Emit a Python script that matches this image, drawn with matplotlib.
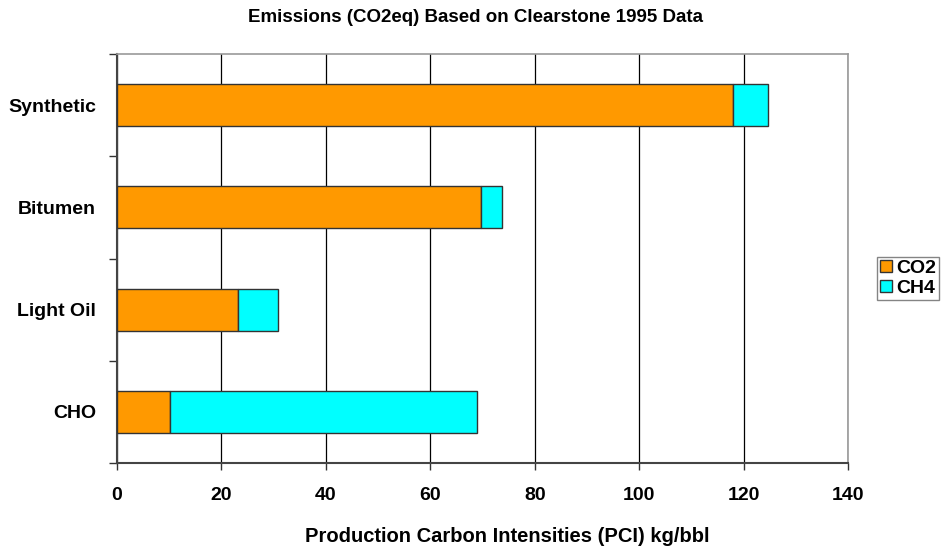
import matplotlib
matplotlib.use("Agg")
import matplotlib.pyplot as plt
import numpy as np

# production carbon intensity by crude type, kg/bbl
categories = ["CHO", "Light Oil", "Bitumen", "Synthetic"]
co2 = [10.2, 23.1, 69.8, 118.0]
ch4 = [58.8, 7.8, 4.0, 6.7]
series_names = ["CO2", "CH4"]
x_ticks = [0, 20, 40, 60, 80, 100, 120, 140]

plt.rcParams["font.family"] = ["Liberation Sans", "DejaVu Sans"]
plt.rcParams["font.weight"] = "bold"

fig = plt.figure(figsize=(9.46, 5.48), dpi=100)
ax = fig.add_axes([117 / 946, 1 - 463 / 548, 731 / 946, 409 / 548])

y = np.arange(len(categories))
bar_h = 0.41
ax.barh(y, co2, height=bar_h, color="#FF9900", edgecolor="#333333",
        linewidth=1.0, label=series_names[0], zorder=3)
ax.barh(y, ch4, left=co2, height=bar_h, color="#00FFFF", edgecolor="#333333",
        linewidth=1.0, label=series_names[1], zorder=3)

ax.set_xlim(0, 140)
ax.set_ylim(-0.5, len(categories) - 0.5)
ax.set_xticks(x_ticks)
ax.set_xticklabels([str(v) for v in x_ticks], fontsize=14, fontweight="bold")
ax.tick_params(axis="x", direction="out", length=5, width=1, color="#333333", pad=12)

ax.set_yticks(y)
ax.set_yticklabels(categories, fontsize=14, fontweight="bold")
ax.tick_params(axis="y", which="major", length=0, pad=15)
ax.set_yticks(np.arange(-0.5, len(categories), 1.0), minor=True)
ax.tick_params(axis="y", which="minor", direction="out", length=6, width=1, color="#333333")

ax.grid(axis="x", color="black", linewidth=0.9, zorder=0)
ax.set_axisbelow(True)
for side in ["left", "bottom"]:
    ax.spines[side].set_color("#444444")
    ax.spines[side].set_linewidth(1.5)
for side in ["top", "right"]:
    ax.spines[side].set_color("#999999")
    ax.spines[side].set_linewidth(1.2)

fig.text(475 / 946, 1 - 17 / 548, "Emissions (CO2eq) Based on Clearstone 1995 Data",
         ha="center", va="center", fontsize=13.5, fontweight="bold")
fig.text(507 / 946, 1 - 536 / 548, "Production Carbon Intensities (PCI) kg/bbl",
         ha="center", va="center", fontsize=14.5, fontweight="bold")

leg = fig.legend(loc="upper left", bbox_to_anchor=(877 / 946, 1 - 257 / 548),
                 fontsize=14, frameon=True, fancybox=False, borderpad=0.15,
                 handlelength=0.6, handleheight=0.6, handletextpad=0.25,
                 labelspacing=0.15, borderaxespad=0)
leg.get_frame().set_edgecolor("#666666")
leg.get_frame().set_linewidth(1.0)
for t in leg.get_texts():
    t.set_fontweight("bold")

fig.savefig("out.png", dpi=100)
